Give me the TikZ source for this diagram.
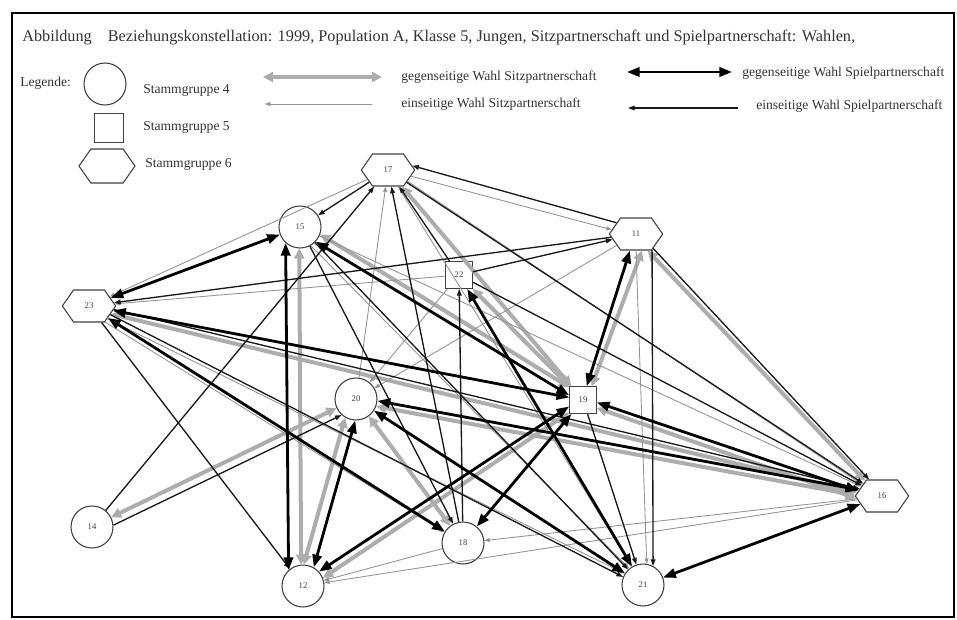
\documentclass[tikz,border=0pt]{standalone}
\usepackage{fontspec}
\setmainfont{Liberation Serif}
\usetikzlibrary{arrows.meta,shapes.symbols}

\begin{document}
\begin{tikzpicture}[x=0.75pt,y=0.75pt,yscale=-1,xscale=1,
  kreis/.style={circle,draw=black!75,fill=white,line width=0.8pt,minimum size=31.5pt,inner sep=0pt,font=\fontsize{6.5}{7}\selectfont,text=black!75},
  quadrat/.style={rectangle,draw=black!75,fill=white,line width=0.8pt,minimum size=20pt,inner sep=0pt,font=\fontsize{6.5}{7}\selectfont,text=black!75},
  sechseck/.style={signal,signal to=west and east,signal pointer angle=110,draw=black!75,fill=white,line width=0.8pt,minimum width=40pt,minimum height=24pt,inner sep=0pt,font=\fontsize{6.5}{7}\selectfont,text=black!75},
  sitzgeg/.style={{Triangle[length=7.5pt,width=7.5pt]}-{Triangle[length=7.5pt,width=7.5pt]},draw=black!32,line width=3pt},
  sitzein/.style={-{Triangle[length=4pt,width=3pt]},draw=black!42,line width=0.65pt},
  spielgeg/.style={{Triangle[length=9.5pt,width=7pt]}-{Triangle[length=9.5pt,width=7pt]},draw=black,line width=2.1pt},
  spielein/.style={-{Triangle[length=5pt,width=3.5pt]},draw=black!90,line width=1pt},
  legtext/.style={anchor=west,inner sep=0.75pt,font=\fontsize{10.2}{12}\selectfont,text=black!80}
]
\useasboundingbox (0,0) rectangle (957,619);
%Shape: Rectangle (frame)
\draw[line width=0.8pt] (12,13) rectangle (954,617);

% Text Node
\node[anchor=west,inner sep=0.75pt,font=\fontsize{12.2}{14}\selectfont,text=black!80] (titel) at (21,38) {Abbildung\hspace{12pt}Beziehungskonstellation: 1999, Population A, Klasse 5, Jungen, Sitzpartnerschaft und Spielpartnerschaft: Wahlen,};

%Legend
\node[legtext] (legende) at (19,83) {Legende:};
\node[kreis,minimum size=31.5pt] (legkreis) at (105,84) {};
\node[quadrat,minimum size=22pt] (legquadrat) at (109,128) {};
\node[sechseck,minimum width=42pt,minimum height=25.5pt] (legsechseck) at (107,166) {};
\node[legtext] (txkreis) at (142,90) {Stammgruppe 4};
\node[legtext] (txquadrat) at (142,127) {Stammgruppe 5};
\node[legtext] (txsechseck) at (144,164) {Stammgruppe 6};

\coordinate (lga1) at (263,77);  \coordinate (lga2) at (382,77);
\coordinate (lgb1) at (265,104); \coordinate (lgb2) at (372,104);
\coordinate (lgc1) at (627,72);  \coordinate (lgc2) at (732,72);
\coordinate (lgd1) at (628,108); \coordinate (lgd2) at (738,108);
\draw[sitzgeg] (lga1) -- (lga2);
\draw[sitzein] (lgb2) -- (lgb1);
\draw[spielgeg] (lgc1) -- (lgc2);
\draw[spielein] (lgd2) -- (lgd1);
\node[legtext] (txsitzgeg) at (400,77) {gegenseitige Wahl Sitzpartnerschaft};
\node[legtext] (txsitzein) at (400,104) {einseitige Wahl Sitzpartnerschaft};
\node[legtext] (txspielgeg) at (741,73) {gegenseitige Wahl Spielpartnerschaft};
\node[legtext] (txspielein) at (755,106) {einseitige Wahl Spielpartnerschaft};

%Children
\node[sechseck] (n17) at (388,170) {17};
\node[kreis] (n15) at (300,227) {15};
\node[sechseck] (n11) at (636,234) {11};
\node[quadrat] (n22) at (459,275) {22};
\node[sechseck] (n23) at (89,306) {23};
\node[kreis] (n20) at (356,399) {20};
\node[quadrat] (n19) at (583,400) {19};
\node[sechseck] (n16) at (882,496) {16};
\node[kreis] (n14) at (92,527) {14};
\node[kreis] (n12) at (303,586) {12};
\node[kreis] (n18) at (463,543) {18};
\node[kreis] (n21) at (643,585) {21};

%Sitzpartnerschaft, gegenseitig
\draw[sitzgeg] (n15.268) -- (n12.95);
\draw[sitzgeg] (n20.240) -- (n12.88);
\draw[sitzgeg] (n20.205) -- (n14.27);
\draw[sitzgeg] (n15.340) -- (n19.137);
\draw[sitzgeg] (n11.290) -- (n19.58);
\draw[sitzgeg] (n12.22) -- (n19.222);
\draw[sitzgeg] (n20) -- (n18);
\draw[sitzgeg] (n19.330) -- (n16.185);
\draw[sitzgeg] (n20.340) -- (n16.178);
\draw[sitzgeg] (n23.340) -- (n16.172);
\draw[sitzgeg] (n11.305) -- (n16.138);
\draw[sitzgeg] (n17) -- (n19);
\draw[sitzgeg] (n22) -- (n19);
%Sitzpartnerschaft, einseitig
\draw[sitzein] (n17) -- (n23);
\draw[sitzein] (n20) -- (n17);
\draw[sitzein] (n17.345) -- (n11.170);
\draw[sitzein] (n17.330) -- (n16.150);
\draw[sitzein] (n11) -- (n20);
\draw[sitzein] (n18) -- (n12);
\draw[sitzein] (n16) -- (n12);
\draw[sitzein] (n16) -- (n18);
\draw[sitzein] (n16) -- (n21);
\draw[sitzein] (n23.325) -- (n21.148);
\draw[sitzein] (n23) -- (n19);
\draw[sitzein] (n23.315) -- (n18.150);
\draw[sitzein] (n22) -- (n23);
\draw[sitzein] (n22) -- (n20);
\draw[sitzein] (n17) -- (n21);
\draw[sitzein] (n15) -- (n16);
\draw[sitzein] (n15.300) -- (n21.130);
\draw[sitzein] (n11.270) -- (n21.80);

%Spielpartnerschaft, einseitig
\draw[spielein] (n17) -- (n15);
\draw[spielein] (n11.150) -- (n17.10);
\draw[spielein] (n22) -- (n17);
\draw[spielein] (n18) -- (n17);
\draw[spielein] (n14) -- (n17);
\draw[spielein] (n11) -- (n23);
\draw[spielein] (n22) -- (n11);
\draw[spielein] (n15) -- (n18);
\draw[spielein] (n15) -- (n21);
\draw[spielein] (n18) -- (n22);
\draw[spielein] (n11.315) -- (n21.62);
\draw[spielein] (n23) -- (n12);
\draw[spielein] (n14.5) -- (n20.228);
\draw[spielein] (n17) -- (n16);
\draw[spielein] (n11.320) -- (n16.128);
\draw[spielein] (n22) -- (n16);
\draw[spielein] (n19) -- (n21);
\draw[spielein] (n23.352) -- (n16.162);
\draw[spielein] (n23.338) -- (n21.158);
%Spielpartnerschaft, gegenseitig
\draw[spielgeg] (n15) -- (n23);
\draw[spielgeg] (n23) -- (n19);
\draw[spielgeg] (n23) -- (n18);
\draw[spielgeg] (n15.228) -- (n12.132);
\draw[spielgeg] (n20.268) -- (n12.60);
\draw[spielgeg] (n11.250) -- (n19.75);
\draw[spielgeg] (n15.317) -- (n19.161);
\draw[spielgeg] (n22) -- (n21);
\draw[spielgeg] (n18) -- (n19);
\draw[spielgeg] (n12.42) -- (n19.205);
\draw[spielgeg] (n20.355) -- (n16.165);
\draw[spielgeg] (n19.350) -- (n16.168);
\draw[spielgeg] (n21) -- (n16);
\draw[spielgeg] (n20) -- (n21);
\end{tikzpicture}
\end{document}
